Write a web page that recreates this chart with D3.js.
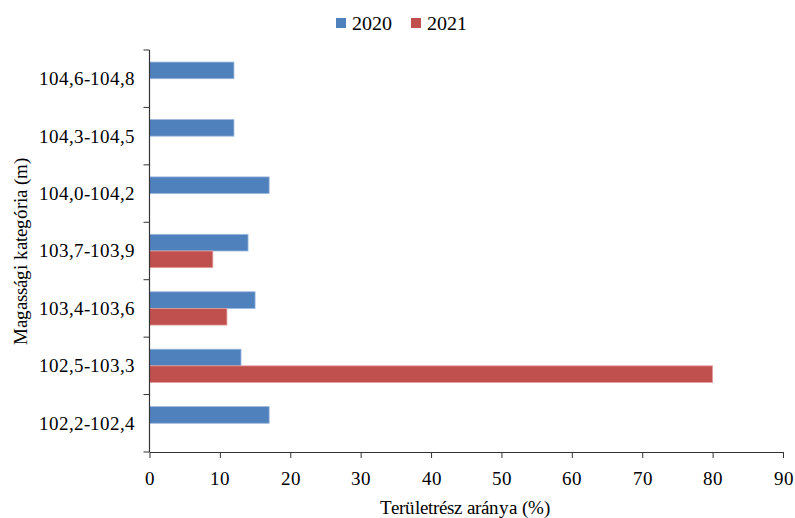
<!DOCTYPE html>
<html>
<head>
<meta charset="utf-8">
<script src="https://cdn.jsdelivr.net/npm/d3@7"></script>
<style>
  @font-face { font-family: "ChartSerif"; src: local("Liberation Serif"), local("LiberationSerif"), local("Liberation Serif Regular"), local("LiberationSerif-Regular"); }
  html, body { margin: 0; padding: 0; background: #fff; }
  #chart text { font-family: "ChartSerif", "Liberation Serif", "Times New Roman", serif; }
</style>
</head>
<body>
<svg id="chart" width="795" height="518" font-family="Liberation Serif"></svg>
<script>
const categories = ["104,6-104,8", "104,3-104,5", "104,0-104,2", "103,7-103,9", "103,4-103,6", "102,5-103,3", "102,2-102,4"];
const seriesNames = ["2020", "2021"];
const values2020 = [12, 12, 17, 14, 15, 13, 17];
const values2021 = [null, null, null, 9, 11, 80, null];
const xTicks = [0, 10, 20, 30, 40, 50, 60, 70, 80, 90];
const colors = ["#4F81BD", "#C0504D"];
const strokeColors = ["#9DB8DD", "#E0A09E"];

(function () {
const svg = d3.select("#chart");
const pLeft = 149.5, pRight = 783, pTop = 50, pBottom = 452;

const x = d3.scaleLinear().domain([0, 90]).range([pLeft, pRight]);
const y = d3.scaleBand().domain(categories).range([pTop, pBottom]).paddingInner(0.42).paddingOuter(0.21);
const ySub = d3.scaleBand().domain(seriesNames).range([0, y.bandwidth()]);

const data = [];
categories.forEach((c, i) => {
  [values2020, values2021].forEach((arr, s) => {
    if (arr[i] != null) data.push({ cat: c, series: seriesNames[s], value: arr[i], s });
  });
});

svg.append("g").selectAll("rect").data(data).join("rect")
  .attr("x", x(0))
  .attr("y", d => y(d.cat) + ySub(d.series))
  .attr("width", d => x(d.value) - x(0))
  .attr("height", ySub.bandwidth())
  .attr("fill", d => colors[d.s])
  .attr("stroke", d => strokeColors[d.s])
  .attr("stroke-width", 0.8);

// X axis
const xAxis = svg.append("g")
  .attr("transform", `translate(0,${pBottom})`)
  .call(d3.axisBottom(x).tickValues(xTicks).tickSize(6).tickSizeOuter(0).tickFormat(d3.format("d")));
xAxis.attr("font-family", null).attr("font-size", null);
xAxis.select(".domain").attr("stroke", "#333").attr("stroke-width", 1.2);
xAxis.selectAll(".tick line").attr("stroke", "#333");
xAxis.selectAll(".tick text").attr("dy", "0").attr("y", 33)
  .attr("font-size", 19).attr("fill", "#000");

// Y axis with ticks at band boundaries
const yAxisG = svg.append("g");
yAxisG.append("line").attr("x1", pLeft).attr("x2", pLeft).attr("y1", pTop).attr("y2", pBottom)
  .attr("stroke", "#333").attr("stroke-width", 1.2);
const step = (pBottom - pTop) / categories.length;
const tickYs = d3.range(categories.length + 1).map(i => pTop + i * step);
yAxisG.selectAll("line.tk").data(tickYs).join("line").attr("class", "tk")
  .attr("x1", pLeft - 6).attr("x2", pLeft).attr("y1", d => d).attr("y2", d => d)
  .attr("stroke", "#333");
yAxisG.selectAll("text").data(categories).join("text")
  .attr("x", pLeft - 15)
  .attr("y", d => y(d) + y.bandwidth() / 2)
  .attr("dy", "0.35em")
  .attr("text-anchor", "end")
  .attr("font-size", 18.5)
  .text(d => d);

// Axis titles
svg.append("text").attr("x", (pLeft + pRight) / 2 - 1).attr("y", 514)
  .attr("text-anchor", "middle").attr("font-size", 18.5).text("Területrész aránya (%)");
svg.append("text").attr("transform", `translate(27,${(pTop + pBottom) / 2}) rotate(-90)`)
  .attr("text-anchor", "middle").attr("font-size", 18.5).text("Magassági kategória (m)");

// Legend
const legend = svg.append("g");
const legendX = [336, 411];
seriesNames.forEach((n, i) => {
  legend.append("rect").attr("x", legendX[i]).attr("y", 18).attr("width", 10).attr("height", 10).attr("fill", colors[i]);
  legend.append("text").attr("x", legendX[i] + 16).attr("y", 30).attr("font-size", 20).text(n);
});
})();
</script>
</body>
</html>
